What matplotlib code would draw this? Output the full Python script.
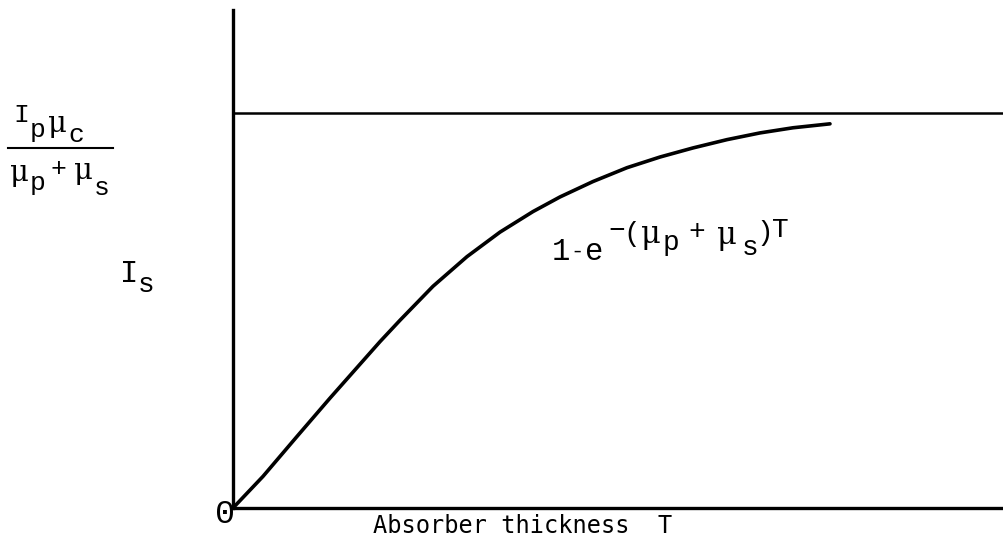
import numpy as np
import matplotlib.pyplot as plt
from matplotlib.lines import Line2D

plt.rcParams['font.family'] = ['Liberation Mono', 'DejaVu Sans Mono']

# secondary intensity I_s vs absorber thickness T (saturation level = 1)
thickness = [0.0, 0.389, 0.830, 1.258, 1.621, 1.907, 2.166, 2.594, 3.035, 3.463,
             3.891, 4.241, 4.669, 5.110, 5.538, 5.966, 6.407, 6.835, 7.263, 7.743]
intensity = [0.0, 0.080, 0.181, 0.278, 0.358, 0.421, 0.475, 0.561, 0.636, 0.698,
             0.750, 0.787, 0.826, 0.861, 0.888, 0.911, 0.932, 0.949, 0.962, 0.972]
saturation = 1.0

W, H = 1004, 540
fig = plt.figure(figsize=(W / 100, H / 100), dpi=100)
ax = fig.add_axes([233 / W, 1 - 508 / H, (W - 233) / W, (508 - 10) / H])

ax.plot(thickness, intensity, color='black', lw=2.6,
        solid_capstyle='round', solid_joinstyle='round')
ax.axhline(saturation, color='black', lw=1.8)

ax.set_xlim(0, 10)
ax.set_ylim(0, 1.26)
ax.set_xticks([])
ax.set_yticks([])
ax.spines['top'].set_visible(False)
ax.spines['right'].set_visible(False)
ax.spines['left'].set_linewidth(2.4)
ax.spines['bottom'].set_linewidth(2.4)


def put(s, x, y, size=19):
    # typewriter-style placement: each glyph centred at pixel x, baseline at pixel y
    family = None
    if s == 'μ':
        family, size = ['DejaVu Serif'], size * 1.1
    fig.text(x / W, 1 - y / H, s, fontsize=size, family=family,
             ha='center', va='baseline')


# saturation level  I_p mu_c / (mu_p + mu_s)
for s, x, y in [('I', 21, 122), ('p', 38, 137), ('μ', 57, 132), ('c', 76, 142)]:
    put(s, x, y)
fig.add_artist(Line2D([8 / W, 113 / W], [1 - 148 / H] * 2, color='black', lw=1.5))
for s, x, y in [('μ', 19, 181), ('p', 38, 190), ('+', 58, 176), ('μ', 83, 179), ('s', 102, 195)]:
    put(s, x, y)

# y label
put('I', 129, 282, 22)
put('s', 146, 292, 20)

put('0', 225, 523, 24)
fig.text(523 / W, 1 - 533 / H, 'Absorber thickness  T', fontsize=17,
         family='DejaVu Sans Mono', ha='center', va='baseline')

# curve label  1-e^-(mu_p + mu_s)T
put('1', 561, 260, 22)
put('-', 577, 258, 16)
put('e', 594, 260, 22)
for s, x, y in [('−', 617, 238), ('(', 632, 241), ('μ', 651, 243), ('p', 671, 250),
                ('+', 697, 239), ('μ', 727, 244), ('s', 750, 255), (')', 765, 240),
                ('T', 780, 237)]:
    put(s, x, y, 20)

fig.savefig('out.png', dpi=100, facecolor='white')
